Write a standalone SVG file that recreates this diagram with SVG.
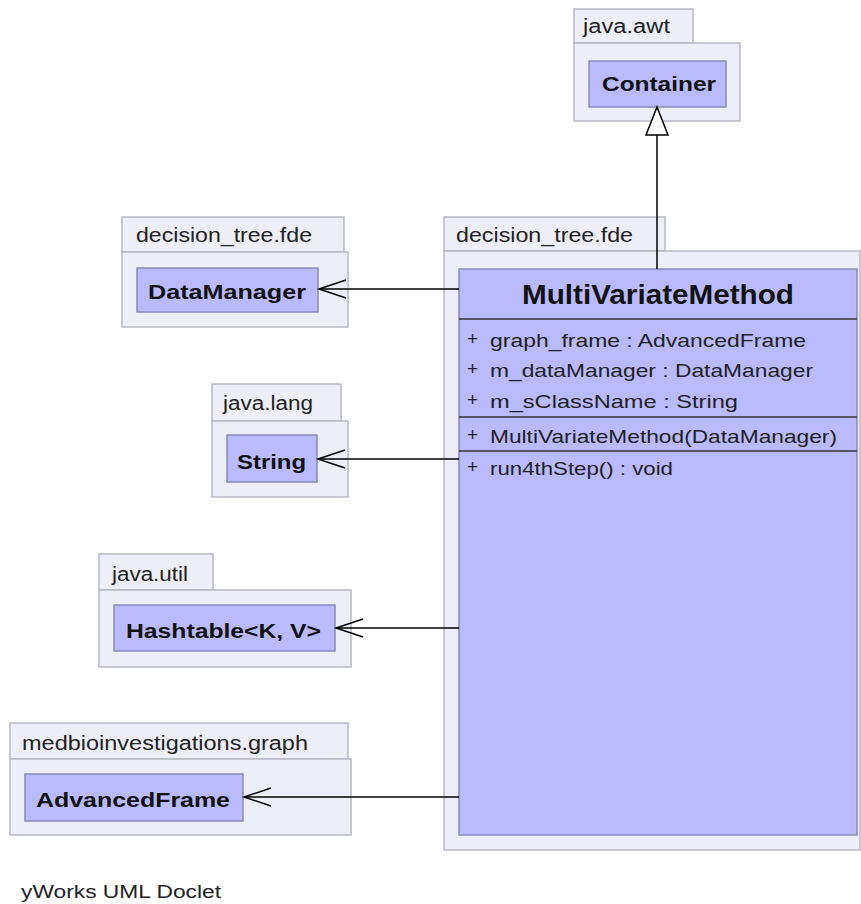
<svg xmlns="http://www.w3.org/2000/svg" width="861" height="904" viewBox="0 0 861 904">
<defs>
<style>
.pkg{fill:#eeeef9;stroke:#b8b8c4;stroke-width:1.5}
.cls{fill:#babaff;stroke:#8a8ab8;stroke-width:1.5}
.pl{font-family:"Liberation Sans",Arial,sans-serif;font-size:20px;fill:#222}
.cn{font-family:"Liberation Sans",Arial,sans-serif;font-size:20px;font-weight:bold;fill:#111}
.tt{font-family:"Liberation Sans",Arial,sans-serif;font-size:27px;font-weight:bold;fill:#111}
.mb{font-family:"Liberation Sans",Arial,sans-serif;font-size:19px;fill:#222}
.sep{stroke:#333;stroke-width:1.5}
.edge{stroke:#000;stroke-width:1.5;fill:none}
</style>
<marker id="open" viewBox="-30 -11 32 22" markerWidth="32" markerHeight="22" refX="0" refY="0" orient="auto" markerUnits="userSpaceOnUse" overflow="visible">
<path d="M-27,-9 L0,0 L-27,9" fill="none" stroke="#000" stroke-width="1.5"/>
</marker>
</defs>

<g id="pkg-java-awt">
<rect class="pkg" x="574" y="9" width="119" height="34"/>
<rect class="pkg" x="574" y="43" width="166" height="78"/>
<text class="pl" x="583" y="33" textLength="87" lengthAdjust="spacingAndGlyphs">java.awt</text>
</g>
<g id="Container">
<rect class="cls" x="589" y="61" width="137" height="46"/>
<text class="cn" x="602" y="91" textLength="114" lengthAdjust="spacingAndGlyphs">Container</text>
</g>

<g id="pkg-decision-tree-left">
<rect class="pkg" x="122" y="217" width="222" height="35"/>
<rect class="pkg" x="122" y="252" width="226" height="75"/>
<text class="pl" x="136" y="242" textLength="176" lengthAdjust="spacingAndGlyphs">decision_tree.fde</text>
</g>
<g id="DataManager">
<rect class="cls" x="137" y="268" width="181" height="44"/>
<text class="cn" x="148" y="299" textLength="158" lengthAdjust="spacingAndGlyphs">DataManager</text>
</g>

<g id="pkg-java-lang">
<rect class="pkg" x="212" y="384" width="129" height="37"/>
<rect class="pkg" x="212" y="421" width="136" height="76"/>
<text class="pl" x="223" y="410" textLength="90" lengthAdjust="spacingAndGlyphs">java.lang</text>
</g>
<g id="String">
<rect class="cls" x="227" y="435" width="90" height="47"/>
<text class="cn" x="237" y="469" textLength="69" lengthAdjust="spacingAndGlyphs">String</text>
</g>

<g id="pkg-java-util">
<rect class="pkg" x="99" y="554" width="114" height="36"/>
<rect class="pkg" x="99" y="590" width="252" height="77"/>
<text class="pl" x="112" y="581" textLength="76" lengthAdjust="spacingAndGlyphs">java.util</text>
</g>
<g id="Hashtable">
<rect class="cls" x="114" y="605" width="221" height="46"/>
<text class="cn" x="126" y="638" textLength="195" lengthAdjust="spacingAndGlyphs">Hashtable&lt;K, V&gt;</text>
</g>

<g id="pkg-medbio-graph">
<rect class="pkg" x="10" y="723" width="338" height="36"/>
<rect class="pkg" x="10" y="759" width="341" height="76"/>
<text class="pl" x="22" y="750" textLength="286" lengthAdjust="spacingAndGlyphs">medbioinvestigations.graph</text>
</g>
<g id="AdvancedFrame">
<rect class="cls" x="25" y="774" width="218" height="47"/>
<text class="cn" x="36" y="807" textLength="194" lengthAdjust="spacingAndGlyphs">AdvancedFrame</text>
</g>

<g id="pkg-decision-tree-main">
<rect class="pkg" x="444" y="217" width="221" height="34"/>
<rect class="pkg" x="444" y="251" width="416" height="599"/>
<text class="pl" x="456" y="242" textLength="177" lengthAdjust="spacingAndGlyphs">decision_tree.fde</text>
</g>
<g id="MultiVariateMethod">
<rect class="cls" x="459" y="269" width="398" height="566"/>
<text class="tt" x="522" y="304" textLength="272" lengthAdjust="spacingAndGlyphs">MultiVariateMethod</text>
<line class="sep" x1="459" y1="319" x2="857" y2="319"/>
<text class="mb" x="467" y="345">+</text>
<text class="mb" x="490" y="347" textLength="316" lengthAdjust="spacingAndGlyphs">graph_frame : AdvancedFrame</text>
<text class="mb" x="467" y="375">+</text>
<text class="mb" x="490" y="377" textLength="323" lengthAdjust="spacingAndGlyphs">m_dataManager : DataManager</text>
<text class="mb" x="467" y="406">+</text>
<text class="mb" x="490" y="408" textLength="248" lengthAdjust="spacingAndGlyphs">m_sClassName : String</text>
<line class="sep" x1="459" y1="417" x2="857" y2="417"/>
<text class="mb" x="467" y="441">+</text>
<text class="mb" x="490" y="443" textLength="347" lengthAdjust="spacingAndGlyphs">MultiVariateMethod(DataManager)</text>
<line class="sep" x1="459" y1="451" x2="857" y2="451"/>
<text class="mb" x="467" y="473">+</text>
<text class="mb" x="490" y="475" textLength="183" lengthAdjust="spacingAndGlyphs">run4thStep() : void</text>
</g>

<g id="connectors">
<line class="edge" x1="657" y1="269" x2="657" y2="135"/>
<path d="M657,107 L668,135 L646,135 Z" fill="#fff" stroke="#000" stroke-width="1.5"/>
<line class="edge" x1="459" y1="289" x2="319" y2="289" marker-end="url(#open)"/>
<line class="edge" x1="459" y1="459" x2="318" y2="459" marker-end="url(#open)"/>
<line class="edge" x1="459" y1="628" x2="336" y2="628" marker-end="url(#open)"/>
<line class="edge" x1="459" y1="797" x2="244" y2="797" marker-end="url(#open)"/>
</g>

<text class="pl" x="21" y="898" style="font-size:18px" textLength="200" lengthAdjust="spacingAndGlyphs">yWorks UML Doclet</text>
</svg>
